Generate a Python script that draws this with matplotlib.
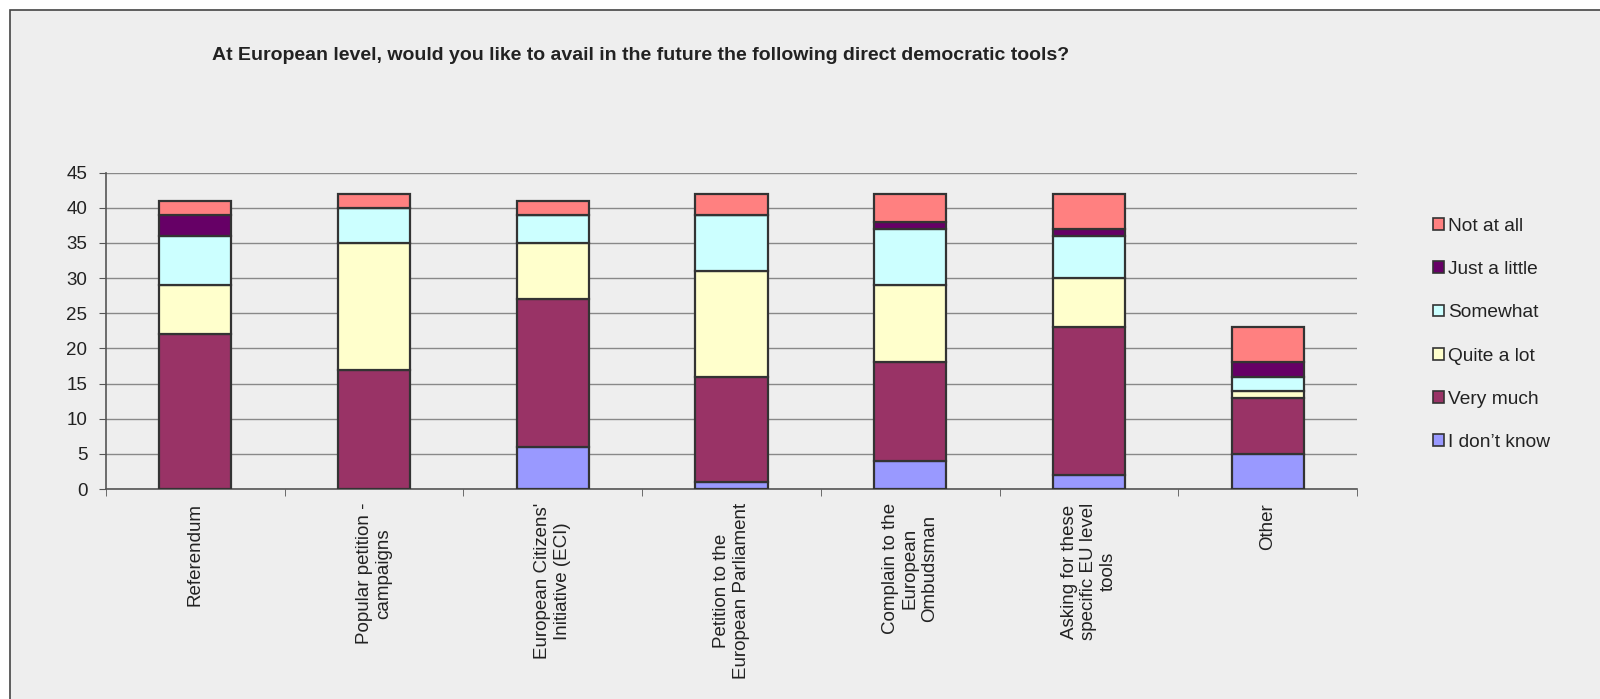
import matplotlib
matplotlib.use('Agg')
import matplotlib.pyplot as plt
from matplotlib.patches import Rectangle, Patch
import numpy as np

plt.rcParams['font.family'] = ['Liberation Sans', 'DejaVu Sans']

categories = ['Referendum', 'Popular petition -\ncampaigns', "European Citizens'\nInitiative (ECI)",
              'Petition to the\nEuropean Parliament', 'Complain to the\nEuropean\nOmbudsman',
              'Asking for these\nspecific EU level\ntools', 'Other']

# stacked from bottom to top
dont_know = [0, 0, 6, 1, 4, 2, 5]
very_much = [22, 17, 21, 15, 14, 21, 8]
quite_a_lot = [7, 18, 8, 15, 11, 7, 1]
somewhat = [7, 5, 4, 8, 8, 6, 2]
just_a_little = [3, 0, 0, 0, 1, 1, 2]
not_at_all = [2, 2, 2, 3, 4, 5, 5]

series = [('I don\u2019t know', dont_know, '#9999FF'),
          ('Very much', very_much, '#993366'),
          ('Quite a lot', quite_a_lot, '#FFFFCC'),
          ('Somewhat', somewhat, '#CCFFFF'),
          ('Just a little', just_a_little, '#660066'),
          ('Not at all', not_at_all, '#FF8080')]

fig = plt.figure(figsize=(16, 6.99), dpi=100)
fig.patch.set_facecolor('white')
fig.patches.append(Rectangle((10 / 1600, -0.1), 1.2, 1 - 10 / 699 + 0.1,
                             transform=fig.transFigure, facecolor='#EEEEEE',
                             edgecolor='#444444', linewidth=1.2, zorder=-10))

ax = fig.add_axes([106 / 1600, 1 - 489 / 699, (1357 - 106) / 1600, (489 - 172.7) / 699])
ax.set_facecolor('none')

x = np.arange(len(categories))
bottom = np.zeros(len(categories))
for name, vals, col in series:
    ax.bar(x, vals, 0.403, bottom=bottom, color=col, edgecolor='#333333', linewidth=1.6, zorder=3)
    bottom += np.array(vals)

ax.set_xlim(-0.5, 6.5)
ax.set_ylim(0, 45)
ax.set_yticks(range(0, 46, 5))
ax.yaxis.grid(True, color='#888888', linewidth=1.0)
ax.set_axisbelow(True)
for s in ['top', 'right']:
    ax.spines[s].set_visible(False)
for s in ['left', 'bottom']:
    ax.spines[s].set_color('#555555')
    ax.spines[s].set_linewidth(1.2)

ax.set_xticks(x)
ax.set_xticklabels(categories, rotation=90, fontsize=13.5, color='#222222',
                   va='top', ha='center', multialignment='center')
ax.set_xticks(np.arange(-0.5, 7, 1), minor=True)
ax.tick_params(axis='x', which='major', length=0, pad=10)
ax.tick_params(axis='x', which='minor', length=5, color='#555555', direction='out')
ax.tick_params(axis='y', length=5, color='#555555', labelsize=13.5, labelcolor='#222222', pad=8.5)

handles = [Patch(facecolor=col, edgecolor='#333333', linewidth=1.2, label=name)
           for name, vals, col in series[::-1]]
fig.legend(handles=handles, loc='center left', bbox_to_anchor=(1433 / 1600, 1 - 334.5 / 699),
           frameon=False, fontsize=13.8, handlelength=0.57, handleheight=0.57,
           handletextpad=0.2, labelspacing=1.37, borderpad=0, borderaxespad=0,
           labelcolor='#222222')

fig.text(212 / 1600, 1 - 60.5 / 699,
         'At European level, would you like to avail in the future the following direct democratic tools?',
         fontweight='bold', fontsize=14, color='#222222', ha='left', va='baseline')

fig.savefig('out.png', dpi=100)
